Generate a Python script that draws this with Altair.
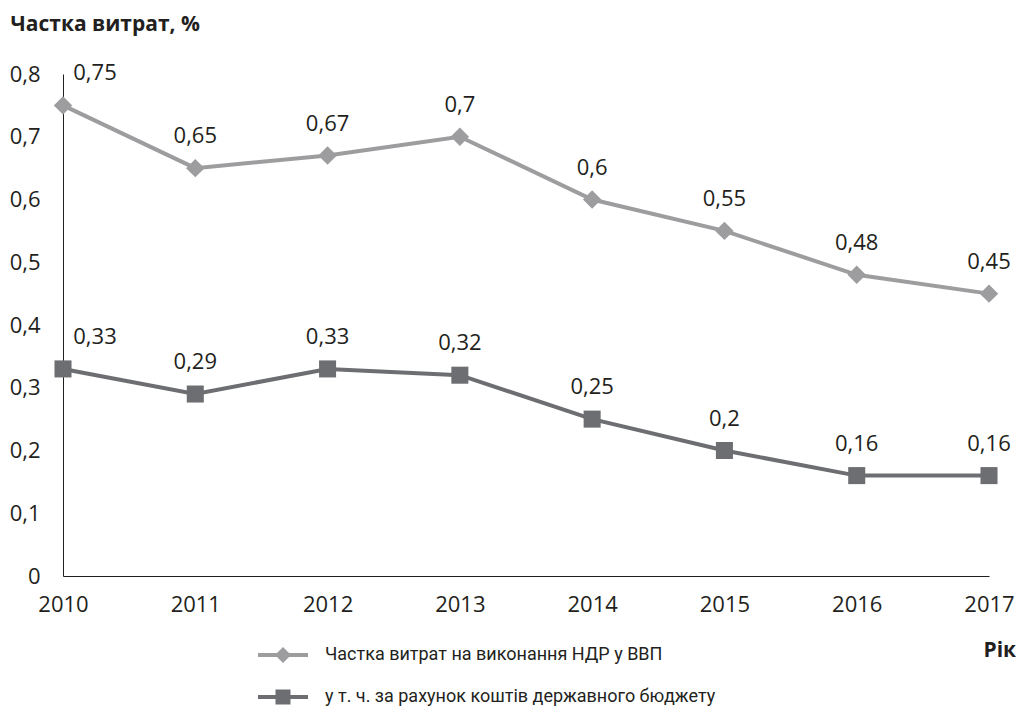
import altair as alt
import pandas as pd

years = [2010, 2011, 2012, 2013, 2014, 2015, 2016, 2017]
total_share = [0.75, 0.65, 0.67, 0.7, 0.6, 0.55, 0.48, 0.45]
budget_share = [0.33, 0.29, 0.33, 0.32, 0.25, 0.2, 0.16, 0.16]
series_names = ["Частка витрат на виконання НДР у ВВП",
                "у т. ч. за рахунок коштів державного бюджету"]
series_colors = ["#9d9d9f", "#6d6e71"]
y_ticks = [0, 0.1, 0.2, 0.3, 0.4, 0.5, 0.6, 0.7, 0.8]

rows = []
for name, vals in zip(series_names, [total_share, budget_share]):
    for yr, v in zip(years, vals):
        rows.append({"year": yr, "value": v, "series": name,
                     "label": str(v).replace(".", ",")})
df = pd.DataFrame(rows)

FONT = "Open Sans"
LEGFONT = "Roboto"
TXT = "#231f20"
FS = 22

leg_paths = [
    "M-1,-0.08L1,-0.08L1,0.08L-1,0.08Z M0,-0.32L0.32,0L0,0.32L-0.32,0Z",
    "M-1,-0.08L1,-0.08L1,0.08L-1,0.08Z M-0.3,-0.3L0.3,-0.3L0.3,0.3L-0.3,0.3Z",
]

x_enc = alt.X("year:Q", scale=alt.Scale(domain=[2010, 2017], nice=False, zero=False),
              axis=alt.Axis(values=years, format="d", title="Рік", grid=False, ticks=False,
                            labelFontSize=FS, labelFont=FONT, labelColor=TXT,
                            labelPadding=18, domainColor=TXT, domainWidth=1,
                            titleFont=FONT, titleFontSize=21, titleFontWeight="bold",
                            titleColor=TXT, titleAnchor="start", titleAlign="left",
                            titleX=920, titleY=80, titleBaseline="alphabetic",
                            labelFlush=False, labelOverlap=False))
y_enc = alt.Y("value:Q", scale=alt.Scale(domain=[0, 0.8], nice=False),
              axis=alt.Axis(values=y_ticks, title="Частка витрат, %", grid=False, ticks=False,
                            labelExpr="datum.value == 0 ? '0' : replace(format(datum.value, '.1f'), '.', ',')",
                            labelFontSize=FS, labelFont=FONT, labelColor=TXT,
                            labelPadding=23, domainColor=TXT, domainWidth=1,
                            titleFont=FONT, titleFontSize=21, titleFontWeight="bold",
                            titleColor=TXT, titleAngle=0, titleAlign="left",
                            titleX=-53, titleY=-44, titleBaseline="alphabetic"))
color_scale = alt.Scale(domain=series_names, range=series_colors)

leg = alt.Legend(title=None, orient="none", legendX=195, legendY=560, direction="vertical",
                 symbolSize=2500, symbolOpacity=1, symbolStrokeWidth=0, clipHeight=42,
                 rowPadding=0, padding=0, labelFont=LEGFONT, labelFontSize=18, labelColor=TXT,
                 labelOffset=17, labelLimit=700)

base = alt.Chart(df)

lines = base.mark_line(strokeWidth=4).encode(
    x=x_enc, y=y_enc,
    color=alt.Color("series:N", scale=color_scale),
    detail="series:N",
)

pts1 = base.transform_filter(alt.datum.series == series_names[0]).mark_point(
    shape="diamond", filled=True, size=340, opacity=1).encode(
    x="year:Q", y="value:Q",
    color=alt.Color("series:N", scale=color_scale))
pts2 = base.transform_filter(alt.datum.series == series_names[1]).mark_point(
    shape="square", filled=True, size=290, opacity=1).encode(
    x="year:Q", y="value:Q",
    color=alt.Color("series:N", scale=color_scale))

legend_layer = base.mark_point(filled=True, opacity=0).encode(
    x="year:Q", y="value:Q",
    color=alt.Color("series:N", scale=color_scale, legend=leg),
    shape=alt.Shape("series:N", scale=alt.Scale(domain=series_names, range=leg_paths),
                    legend=leg),
)

labels_main = base.transform_filter(alt.datum.year != 2010).mark_text(
    font=FONT, fontSize=FS, color=TXT, dy=-32, baseline="middle").encode(
    x="year:Q", y="value:Q", text="label:N")
labels_first = base.transform_filter(alt.datum.year == 2010).mark_text(
    font=FONT, fontSize=FS, color=TXT, dy=-32, dx=32, baseline="middle").encode(
    x="year:Q", y="value:Q", text="label:N")

chart = alt.layer(lines, pts1, pts2, legend_layer, labels_main, labels_first).properties(
    width=926, height=502,
    padding={"left": 55, "top": 66, "right": 27, "bottom": 136},
    autosize="none",
).configure_view(stroke=None)

chart.save("out.html", embed_options={"renderer": "svg", "actions": False})
